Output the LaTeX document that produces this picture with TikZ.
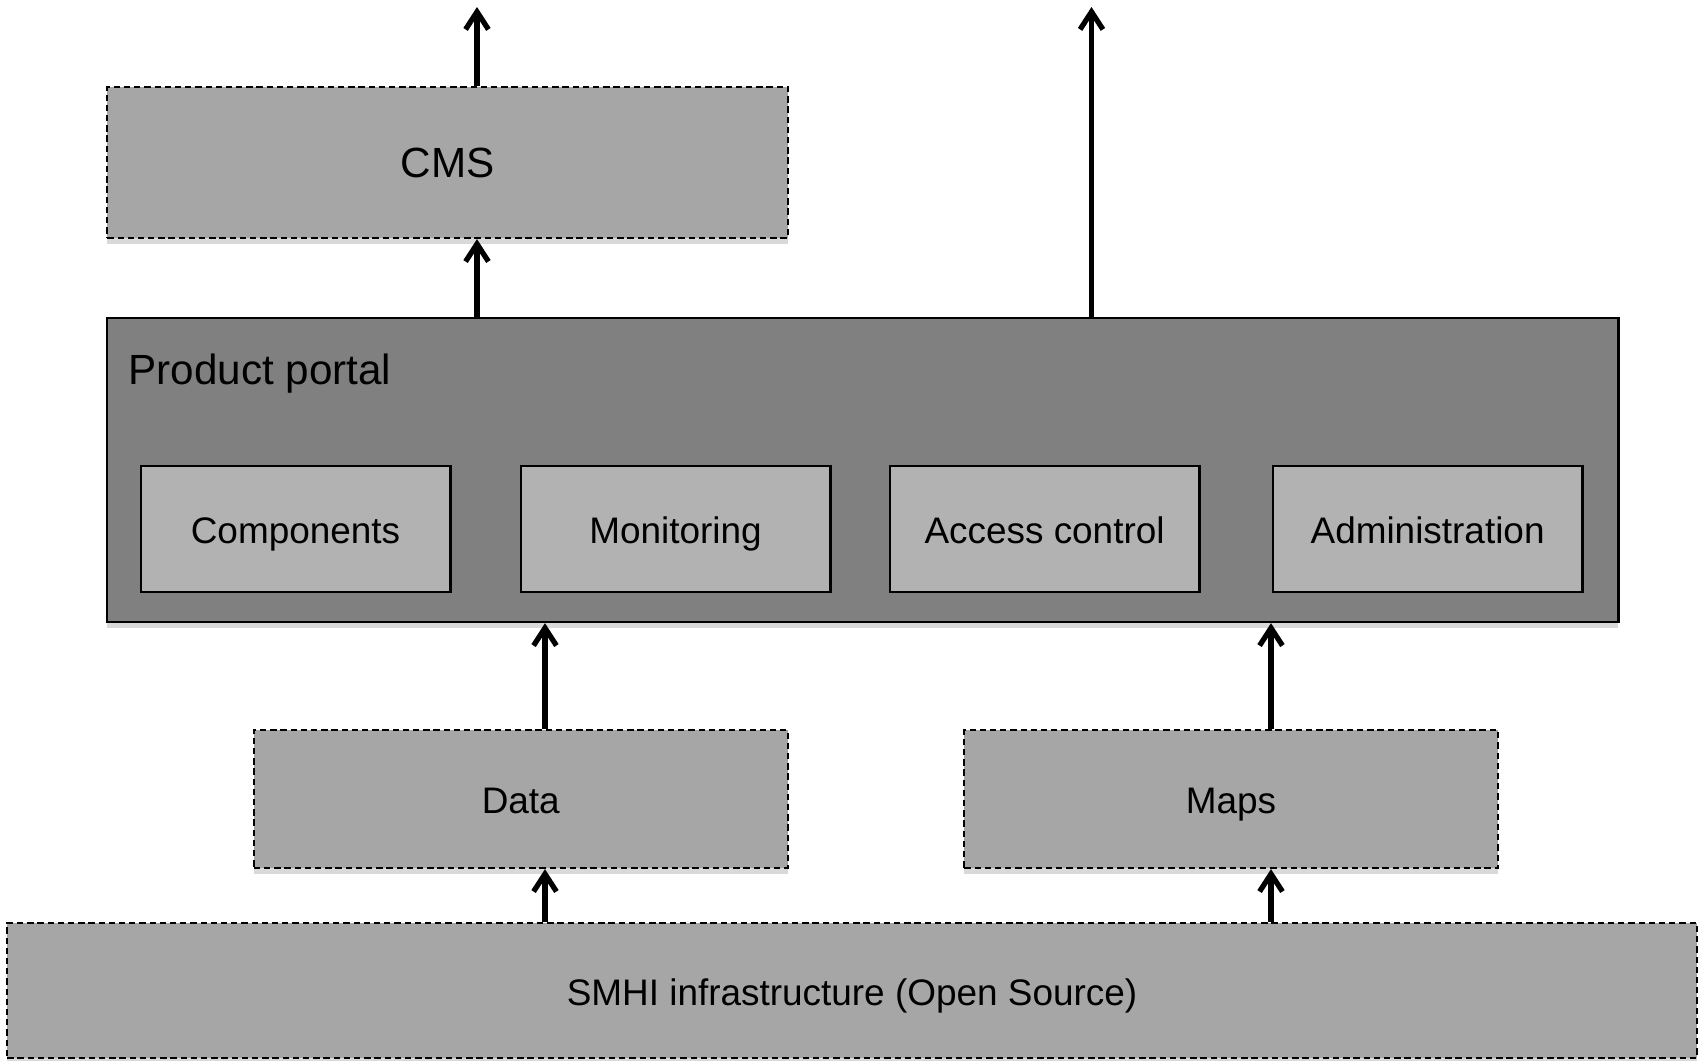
\documentclass[tikz,border=0pt]{standalone}
\usepackage{fontspec}
\setmainfont{Liberation Sans}
\usetikzlibrary{positioning,arrows.meta,shadows}

\begin{document}
\begin{tikzpicture}[
    x=0.01cm, y=-0.01cm,
    node distance=0.68cm,
    boxshadow/.style={drop shadow={shadow xshift=0pt, shadow yshift=-1.6pt, fill=black!15, opacity=1}},
    dashbox/.style={rectangle, draw=black, fill=black!35, line width=0.6pt, dash pattern=on 1.8pt off 1.1pt, inner sep=0pt, text height=0.85em, text depth=0pt, boxshadow, font=\fontsize{10.5}{12.6}\selectfont},
    portalbox/.style={rectangle, draw=black, fill=black!50, line width=0.6pt, inner sep=0pt, boxshadow},
    compbox/.style={rectangle, draw=black, fill=black!30, line width=0.8pt, minimum width=3.09cm, minimum height=1.26cm, inner sep=0pt, text height=0.8em, text depth=0pt, font=\fontsize{10.5}{12.6}\selectfont},
    bigtext/.style={font=\fontsize{12}{14.4}\selectfont},
    flow/.style={-{Straight Barb[length=5pt, width=6.5pt]}, line width=1.5pt, draw=black}
    ]
        \useasboundingbox (0,0) rectangle (1703,1060);

        %Nodes
        \node[dashbox, bigtext, minimum width=6.8cm, minimum height=1.51cm]
            (cms)       at (447.5,162.5)    {CMS};
        \node[portalbox, minimum width=15.105cm, minimum height=3.04cm]
            (portal)    at (862.75,470)     {};
        \node[bigtext, anchor=base west, inner sep=0pt]
            (ptitle)    at (128,384)        {Product portal};
        \node[compbox]
            (comp)      at (295.5,529)      {Components};
        \node[compbox]
            (mon)       [right=0.68cm of comp]      {Monitoring};
        \node[compbox]
            (access)    [right=0.57cm of mon]       {Access control};
        \node[compbox]
            (admin)     [right=0.71cm of access]    {Administration};
        \node[dashbox, minimum width=5.335cm, minimum height=1.38cm]
            (data)      at (520.75,799)     {Data};
        \node[dashbox, minimum width=5.33cm, minimum height=1.38cm]
            (maps)      at (1231,799)       {Maps};
        \node[dashbox, minimum width=16.885cm, minimum height=1.35cm]
            (smhi)      at (852,990.5)      {SMHI infrastructure (Open Source)};

        %Columns and free ends
        \coordinate (outL) at (477,7);
        \coordinate (outR) at (1091.5,7);
        \coordinate (colD) at (545,0);
        \coordinate (colM) at (1271,0);

        %Lines
        \draw[flow] (cms.north -| outL) -- (outL);
        \draw[flow] (portal.north -| outL) -- (cms.south -| outL);
        \draw[flow] (portal.north -| outR) -- (outR);
        \draw[flow] (data.north -| colD) -- (portal.south -| colD);
        \draw[flow] (maps.north -| colM) -- (portal.south -| colM);
        \draw[flow] (smhi.north -| colD) -- (data.south -| colD);
        \draw[flow] (smhi.north -| colM) -- (maps.south -| colM);
    \end{tikzpicture}
\end{document}
